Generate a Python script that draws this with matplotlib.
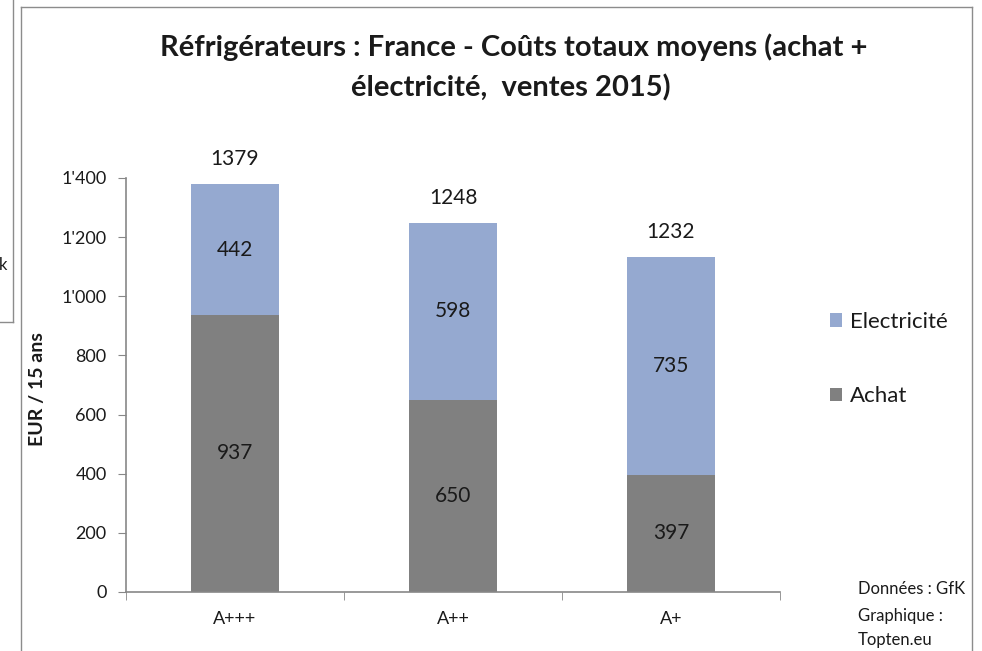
import matplotlib
matplotlib.use("Agg")
import matplotlib.pyplot as plt
from matplotlib.lines import Line2D
from matplotlib.ticker import FuncFormatter

# Data
categories = ["A+++", "A++", "A+"]
achat = [937, 650, 397]
electricite = [442, 598, 735]
total_labels = ["1379", "1248", "1232"]
yticks = [0, 200, 400, 600, 800, 1000, 1200, 1400]

BLUE = "#95A9D0"
GREY = "#808080"
AXIS = "#878787"
TXT = "#1a1a1a"
FONT = "Lato"

W, H = 982, 651
fig = plt.figure(figsize=(W / 100, H / 100), dpi=100)
fig.patch.set_facecolor("white")


def px(x, y):
    return x / W, 1 - y / H


# axes placed in pixel units
x0, x1, ytop, ybot = 126, 780, 178, 592
ax = fig.add_axes([x0 / W, 1 - ybot / H, (x1 - x0) / W, (ybot - ytop) / H])

xs = range(len(categories))
width = 0.4
b1 = ax.bar(xs, achat, width=width, color=GREY, label="Achat")
b2 = ax.bar(xs, electricite, width=width, bottom=achat, color=BLUE, label="Electricité")

# segment labels centred in each block, totals above
for i in xs:
    ax.text(i, achat[i] / 2, str(achat[i]), ha="center", va="center",
            fontsize=15, color=TXT, family=FONT)
    ax.text(i, achat[i] + electricite[i] / 2, str(electricite[i]), ha="center",
            va="center", fontsize=15, color=TXT, family=FONT)
    ax.annotate(total_labels[i], (i, achat[i] + electricite[i]), xytext=(0, 18),
                textcoords="offset points", ha="center", va="center",
                fontsize=15, color=TXT, family=FONT)

ax.set_xlim(-0.5, len(categories) - 0.5)
ax.set_ylim(0, 1400)
ax.set_yticks(yticks)
ax.yaxis.set_major_formatter(FuncFormatter(lambda v, p: f"{int(v):,}".replace(",", "'")))
ax.set_xticks(list(xs))
ax.set_xticklabels(categories)
ax.set_xticks([-0.5, 0.5, 1.5, 2.5], minor=True)
ax.tick_params(axis="x", which="major", length=0, pad=14)
ax.tick_params(axis="x", which="minor", length=6, color=AXIS, direction="out")
ax.tick_params(axis="y", length=6, color=AXIS, direction="out", pad=8)
for lab in ax.get_xticklabels() + ax.get_yticklabels():
    lab.set_family(FONT)
    lab.set_fontsize(13)
    lab.set_color(TXT)

for s in ["top", "right"]:
    ax.spines[s].set_visible(False)
for s in ["left", "bottom"]:
    ax.spines[s].set_color(AXIS)
    ax.spines[s].set_linewidth(1.2)

ax.set_ylabel("EUR / 15 ans", fontsize=14, fontweight="bold", family=FONT, color=TXT)
ax.yaxis.set_label_coords(46 / W, 1 - 389 / H, transform=fig.transFigure)

# title
fig.text(*px(514, 47), "Réfrigérateurs : France - Coûts totaux moyens (achat +",
         ha="center", va="center", fontsize=21, fontweight="bold", family=FONT, color=TXT)
fig.text(*px(511, 88), "électricité,  ventes 2015)",
         ha="center", va="center", fontsize=21, fontweight="bold", family=FONT, color=TXT)

# legend
leg = fig.legend(handles=[b2, b1], labels=["Electricité", "Achat"],
                 loc="upper left", bbox_to_anchor=px(830, 312), frameon=False,
                 prop={"family": FONT, "size": 16}, handlelength=0.55, handleheight=0.55,
                 handletextpad=0.35, labelspacing=2.45, borderaxespad=0, borderpad=0)
for t in leg.get_texts():
    t.set_color(TXT)

# source note
for yy, s in [(589, "Données : GfK"), (616, "Graphique :"), (640, "Topten.eu")]:
    fig.text(*px(858, yy), s, ha="left", va="center", fontsize=12, family=FONT, color=TXT)

# chart frame and the fragment of the neighbouring box
frame = dict(color="#8c8c8c", lw=1.0, transform=fig.transFigure)
fig.add_artist(Line2D([21 / W, 21 / W], [0, 1 - 7 / H], **frame))
fig.add_artist(Line2D([21 / W, 972 / W], [1 - 7 / H, 1 - 7 / H], **frame))
fig.add_artist(Line2D([972 / W, 972 / W], [0, 1 - 7 / H], **frame))
fig.add_artist(Line2D([13 / W, 13 / W], [1 - 322 / H, 1], **frame))
fig.add_artist(Line2D([0, 13 / W], [1 - 322 / H, 1 - 322 / H], **frame))
fig.text(*px(-1, 265), "k", ha="left", va="center", fontsize=12, family=FONT, color=TXT)

fig.savefig("out.png", dpi=100)
